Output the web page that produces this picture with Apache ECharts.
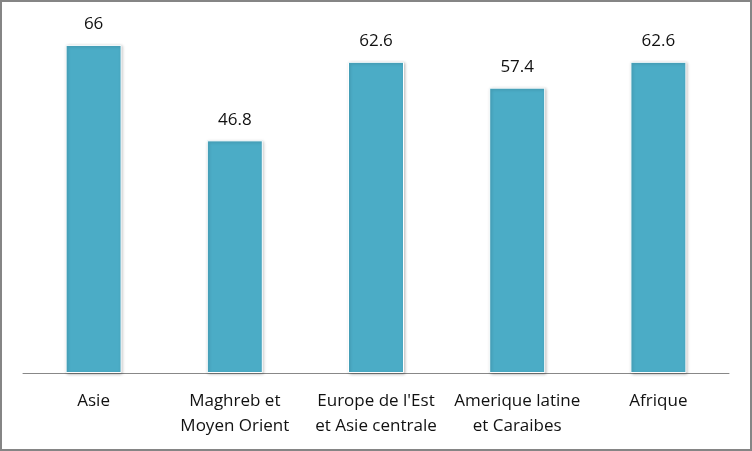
<!DOCTYPE html>
<html><head><meta charset="utf-8">
<script src="https://cdn.jsdelivr.net/npm/echarts@6/dist/echarts.min.js"></script>
<style>html,body{margin:0;padding:0;background:#fff}#c{width:752px;height:451px}</style>
</head><body><div id="c"></div>
<script>
const categories = ["Asie", "Maghreb et\nMoyen Orient", "Europe de l'Est\net Asie centrale", "Amerique latine\net Caraibes", "Afrique"];
const values = [66, 46.8, 62.6, 57.4, 62.6];

const chart = echarts.init(document.getElementById('c'));
chart.setOption({
  animation: false,
  backgroundColor: '#fff',
  grid: { left: 23, right: 23, top: 25, bottom: 78 },
  graphic: [{
    type: 'rect', shape: { x: 1, y: 1, width: 750, height: 449 },
    style: { fill: 'none', stroke: '#858585', lineWidth: 2 }, silent: true
  }],
  xAxis: {
    type: 'category', data: categories,
    axisLine: { lineStyle: { color: '#888', width: 1 } },
    axisTick: { show: false },
    axisLabel: { color: '#111', fontFamily: 'Open Sans', fontSize: 17, lineHeight: 25, margin: 16, interval: 0 }
  },
  yAxis: { type: 'value', min: 0, max: 70, show: false, splitLine: { show: false } },
  series: [{
    type: 'bar', data: values, barWidth: 56,
    itemStyle: { color: '#4BACC6', borderColor: '#fff', borderWidth: 1,
      shadowBlur: 3, shadowColor: 'rgba(0,0,0,0.25)', shadowOffsetX: 1, shadowOffsetY: 1 },
    label: { show: true, position: 'top', distance: 12, color: '#111', fontFamily: 'Open Sans', fontSize: 17 }
  }]
});
</script></body></html>
